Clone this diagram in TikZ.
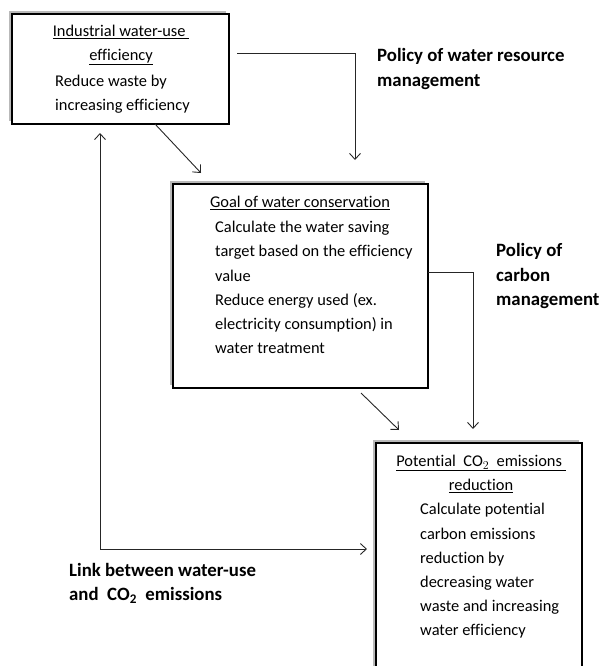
\documentclass[tikz,border=0pt]{standalone}
\usepackage{fontspec}
\setmainfont{Carlito}[Ligatures=NoCommon]
\usetikzlibrary{shadows,arrows.meta}
\tikzset{
  panel/.style={draw=black,line width=2.4pt,fill=white,anchor=north west,inner sep=0pt,
    drop shadow={shadow xshift=-3.5pt,shadow yshift=3.5pt,fill=gray!55,opacity=1}},
  boxtext/.style={inner sep=0pt,font=\fontsize{16.4}{24.2}\selectfont},
  policy/.style={inner sep=0pt,anchor=west,align=left,font=\fontsize{18.8}{24.5}\selectfont\bfseries},
  flow/.style={draw=black!85,line width=0.9pt,-{Straight Barb[length=6pt,width=11pt]}}
}
\begin{document}
\begin{tikzpicture}[x=1pt,y=-1pt]
      \useasboundingbox (0,0) rectangle (602,666);
      \clip (0,0) rectangle (602,666);
      \node[panel,minimum width=217pt,minimum height=110pt] (effbox) at (11,13) {};
      \node[panel,minimum width=255pt,minimum height=204pt] (goalbox) at (172,183) {};
      \node[panel,minimum width=206pt,minimum height=258pt] (co2box) at (375,442) {};
      \draw
        (121,45) node[boxtext,align=center] (efftitle){\underline{Industrial water-use\ }\\\underline{efficiency}}
        (55,94) node[boxtext,anchor=west,align=left] (effbody){Reduce waste by\\increasing efficiency}
        (300,203) node[boxtext] (goaltitle){\underline{Goal of water conservation}}
        (215,287.5) node[boxtext,anchor=west,align=left] (goalbody){Calculate the water saving\\target based on the efficiency\\value\\Reduce energy used (ex.\\electricity consumption) in\\water treatment}
        (481,474) node[boxtext,align=center] (co2title){\underline{Potential\ \ $\mathrm{CO}_2$\ \ emissions\ }\\\underline{reduction}}
        (420,571) node[boxtext,anchor=west,align=left] (co2body){Calculate potential\\carbon emissions\\reduction by\\decreasing water\\waste and increasing\\water efficiency}
        (377,69) node[policy] (waterpolicy){Policy of water resource\\management}
        (496,276) node[policy] (carbonpolicy){Policy of\\carbon\\management}
        (69,583) node[policy] (linklabel){Link between water-use\\and\ \ $\mathbf{CO}_{\mathbf{2}}$\ \ emissions};
      \coordinate (wstart) at (237,53);
      \coordinate (wtip) at (355,160);
      \coordinate (estart) at (155,124);
      \coordinate (etip) at (201,173);
      \coordinate (cstart) at (428,272);
      \coordinate (ctip) at (473,429);
      \coordinate (gstart) at (361,393);
      \coordinate (gtip) at (399,430);
      \coordinate (ltop) at (100,133);
      \coordinate (lright) at (367,549);
      \begin{scope}[flow]
        \draw (wstart) -| (wtip);
        \draw (estart) to (etip);
        \draw (cstart) -| (ctip);
        \draw (gstart) to (gtip);
        \draw[{Straight Barb[length=6pt,width=11pt]}-{Straight Barb[length=6pt,width=11pt]}] (ltop) |- (lright);
      \end{scope}
    \end{tikzpicture}
\end{document}
